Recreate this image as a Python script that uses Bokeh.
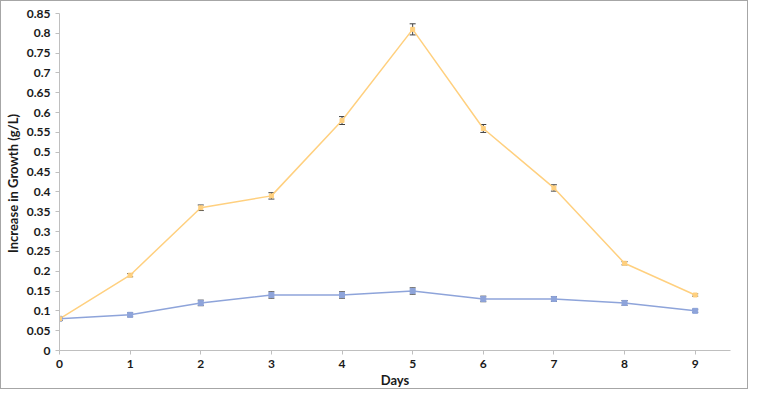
from bokeh.plotting import figure
from bokeh.models import ColumnDataSource, Whisker, FixedTicker, TeeHead
from bokeh.embed import file_html
from bokeh.resources import INLINE

days = [0, 1, 2, 3, 4, 5, 6, 7, 8, 9]
orange_vals = [0.08, 0.19, 0.36, 0.39, 0.58, 0.81, 0.56, 0.41, 0.22, 0.14]
orange_err = [0.004, 0.004, 0.007, 0.008, 0.010, 0.014, 0.010, 0.008, 0.004, 0.003]
blue_vals = [0.08, 0.09, 0.12, 0.14, 0.14, 0.15, 0.13, 0.13, 0.12, 0.10]
blue_err = [0.004, 0.005, 0.007, 0.008, 0.008, 0.008, 0.007, 0.006, 0.006, 0.004]
y_ticks = [0, 0.05, 0.1, 0.15, 0.2, 0.25, 0.3, 0.35, 0.4, 0.45, 0.5, 0.55,
           0.6, 0.65, 0.7, 0.75, 0.8, 0.85]
y_tick_labels = ["0", "0.05", "0.1", "0.15", "0.2", "0.25", "0.3", "0.35", "0.4",
                 "0.45", "0.5", "0.55", "0.6", "0.65", "0.7", "0.75", "0.8", "0.85"]

FONT = "Lato"
ORANGE = "#FFD07F"
BLUE = "#8EA4DA"

p = figure(width=748, height=389, x_range=(0, 9.5), y_range=(0, 0.85),
           output_backend="svg", toolbar_location=None,
           min_border_left=54, min_border_right=19, min_border_top=12, min_border_bottom=36)
p.styles = {"border": "1px solid #a6a6a6"}
p.outline_line_color = None
p.xgrid.visible = False
p.ygrid.visible = False

def src(vals, err):
    return ColumnDataSource(dict(x=days, y=vals,
                                 lo=[v - e for v, e in zip(vals, err)],
                                 hi=[v + e for v, e in zip(vals, err)]))

s_o = src(orange_vals, orange_err)
s_b = src(blue_vals, blue_err)

p.line("x", "y", source=s_b, line_color=BLUE, line_width=1.5)
p.line("x", "y", source=s_o, line_color=ORANGE, line_width=1.5)
p.scatter("x", "y", source=s_b, marker="square", size=5, fill_color=BLUE, line_color=BLUE)
p.scatter("x", "y", source=s_o, marker="square", size=4, fill_color=ORANGE, line_color=ORANGE)

for s in (s_b, s_o):
    w = Whisker(base="x", lower="lo", upper="hi", source=s,
                line_color="#404040", line_width=1,
                upper_head=TeeHead(size=6, line_color="#404040", line_width=1),
                lower_head=TeeHead(size=6, line_color="#404040", line_width=1))
    p.add_layout(w)

p.xaxis.ticker = FixedTicker(ticks=days)
p.yaxis.ticker = FixedTicker(ticks=y_ticks)
p.yaxis.major_label_overrides = {t: l for t, l in zip(y_ticks, y_tick_labels)}
p.xaxis.major_label_overrides = {d: str(d) for d in days}

for ax in (p.xaxis, p.yaxis):
    ax.axis_line_color = "#bfbfbf"
    ax.major_tick_line_color = "#bfbfbf"
    ax.minor_tick_line_color = None
    ax.major_tick_in = 0
    ax.major_tick_out = 4
    ax.major_label_text_font = FONT
    ax.major_label_text_font_style = "bold"
    ax.major_label_text_font_size = "12px"
    ax.major_label_text_color = "#1a1a1a"
    ax.axis_label_text_font = FONT
    ax.axis_label_text_font_style = "bold"
    ax.axis_label_text_font_size = "13px"
    ax.axis_label_text_color = "#1a1a1a"

p.xaxis.axis_label = "Days"
p.yaxis.axis_label = "Increase in Growth  (g/L)"
p.xaxis.major_label_standoff = 5
p.xaxis.axis_label_standoff = 1
p.yaxis.major_label_standoff = 5
p.yaxis.axis_label_standoff = 3

open("out.html", "w").write(file_html(p, INLINE))
